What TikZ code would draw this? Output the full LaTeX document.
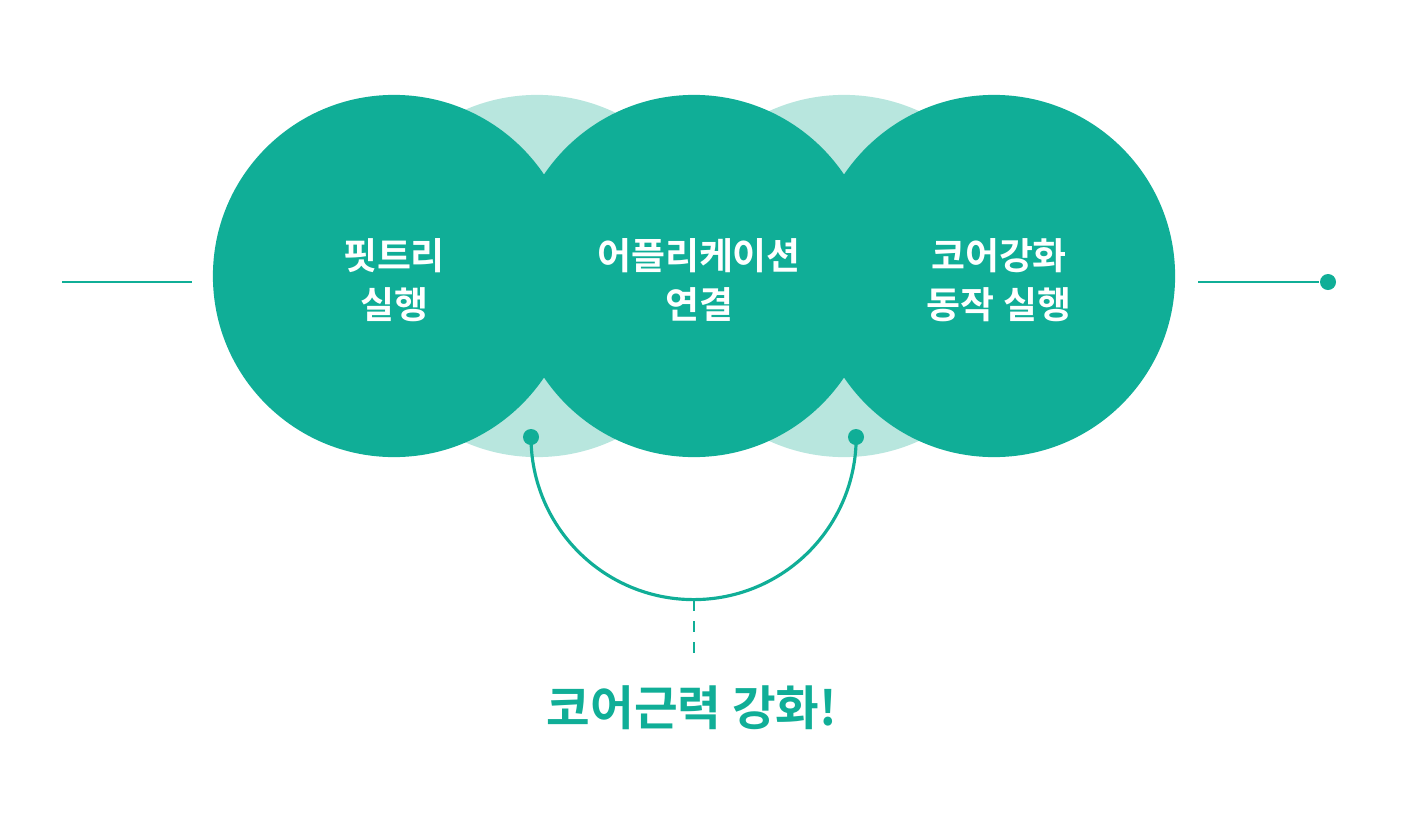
\documentclass[tikz,border=0pt]{standalone}
\usepackage{fontspec}
\newfontfamily\kr{Noto Sans CJK KR Bold}
\definecolor{teal1}{HTML}{10AE97}
\definecolor{teal2}{HTML}{B8E6DE}
\usetikzlibrary{calc}

\begin{document}
\begin{tikzpicture}[x=0.01cm, y=-0.01cm]
    \tikzset{
      bigc/.style={circle, fill=teal1, minimum size=3.62cm, inner sep=0pt, text=white, font=\kr\fontsize{10.5}{14}\selectfont, align=center},
      backc/.style={circle, fill=teal2, minimum size=3.62cm, inner sep=0pt},
      dot/.style={circle, fill=teal1, inner sep=0pt, minimum size=1.6mm}
    }
    \useasboundingbox (0,0) rectangle (1401,821);

    \node[backc] (b1) at (537,276) {};
    \node[backc] (b2) at (844,276) {};
    \node[bigc] (c1) at (394,276) {};
    \node[bigc] (c2) at (694,276) {};
    \node[bigc] (c3) at (994,276) {};
    \node[text=white, font=\kr\fontsize{10.5}{14}\selectfont, align=center] (t1) at (394,280) {핏트리\\실행};
    \node[text=white, font=\kr\fontsize{10.5}{14}\selectfont, align=center] (t2) at (699,280) {어플리케이션\\연결};
    \node[text=white, font=\kr\fontsize{10.5}{14}\selectfont, align=center] (t3) at (999,280) {코어강화\\동작 실행};

    \coordinate (l1) at (62,282);
    \coordinate (l2) at (192,282);
    \coordinate (r1) at (1198,282);
    \node[dot] (r2) at (1328,282) {};
    \draw[teal1, line width=0.8pt] (l1) -- (l2);
    \draw[teal1, line width=0.8pt] (r1) -- (r2);

    \node[dot] (d1) at (531,437) {};
    \node[dot] (d2) at (856,437) {};
    \coordinate (bot) at (694,600);
    \coordinate (dend) at (694,662);
    \draw[teal1, line width=0.9pt] (d1.center) arc[start angle=180, end angle=360, radius=1.625cm];
    \draw[teal1, line width=0.8pt, dashed] (bot) -- (dend);
    \node[text=teal1, font=\kr\fontsize{13.5}{16}\selectfont] (title) at (692,708) {코어근력 강화!};
\end{tikzpicture}
\end{document}
